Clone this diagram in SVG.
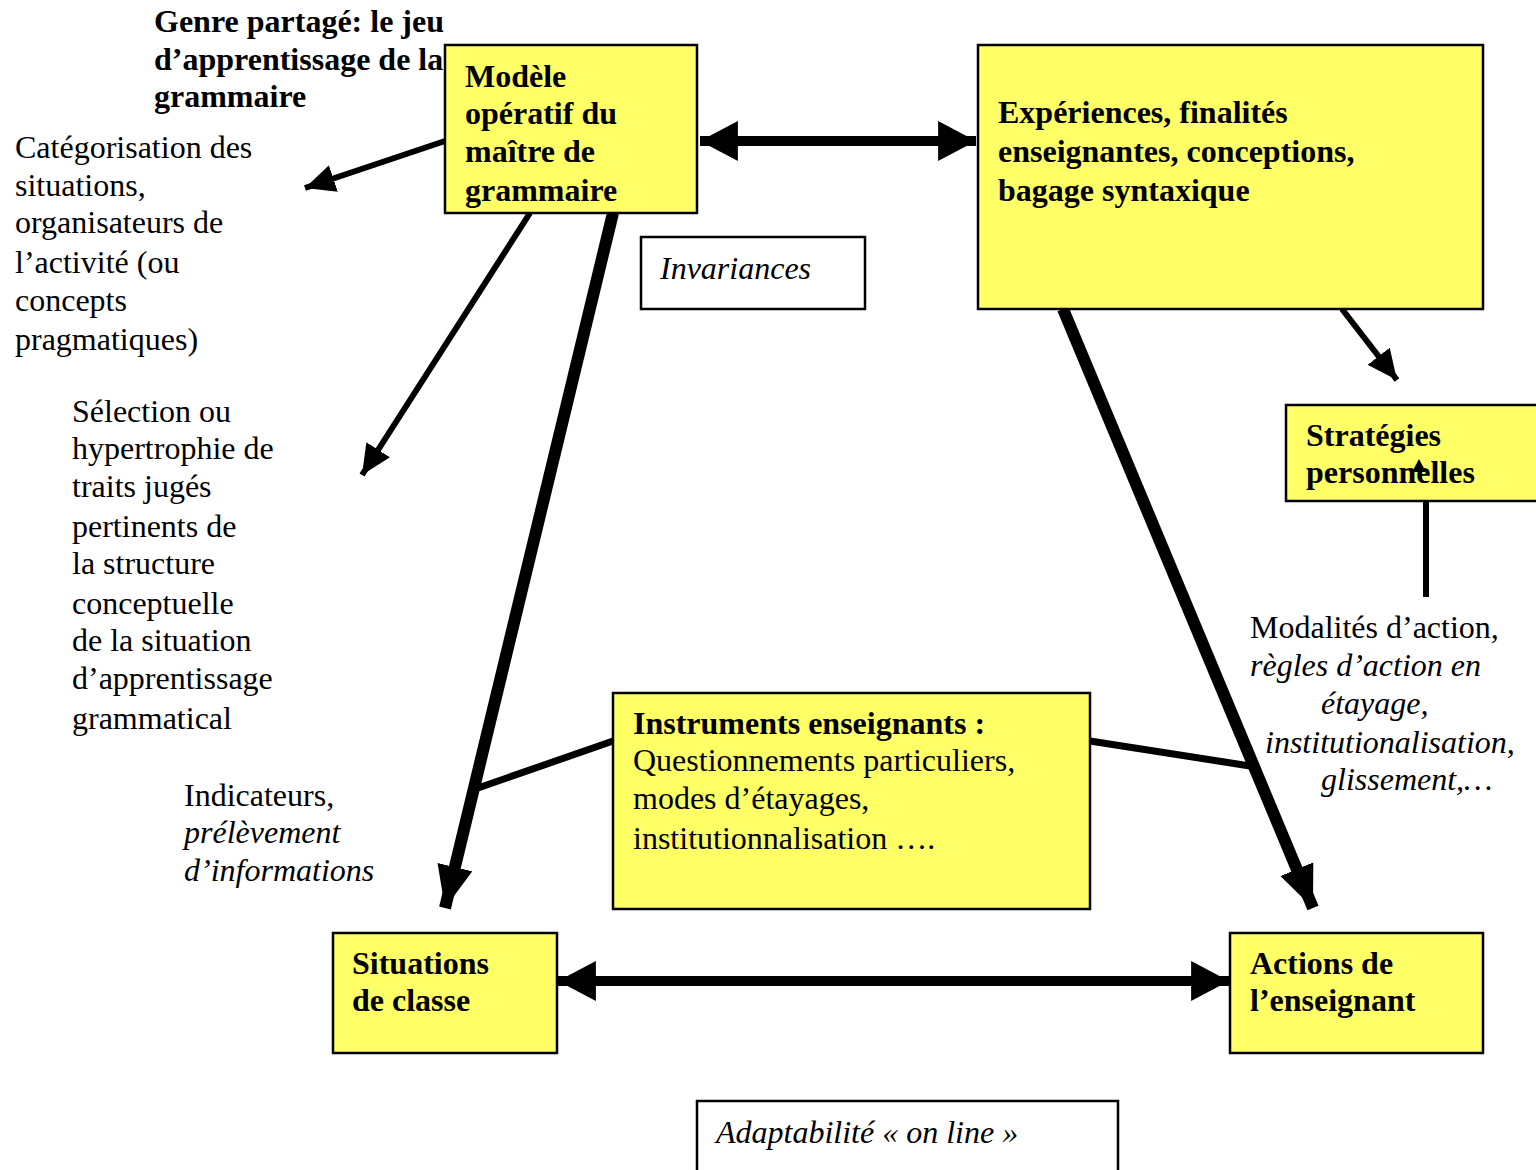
<svg xmlns="http://www.w3.org/2000/svg" width="1536" height="1170" viewBox="0 0 1536 1170">
<style>
.box{fill:#FFFF66;stroke:#000;stroke-width:2.5}
.wbox{fill:#fff;stroke:#000;stroke-width:2.5}
text{font-family:"Liberation Serif","Times New Roman",serif;font-size:32px;fill:#000}
.b{font-weight:bold}
.i{font-style:italic}
.c{stroke:#000;fill:none}
</style>
<defs>
<marker id="hL" markerUnits="userSpaceOnUse" markerWidth="40" markerHeight="40" viewBox="0 0 36 38" refX="36" refY="19" orient="auto-start-reverse"><path d="M0,0 L36,19 L0,38 z"/></marker>
<marker id="hT" markerUnits="userSpaceOnUse" markerWidth="42" markerHeight="36" viewBox="0 0 40 34" refX="40" refY="17" orient="auto"><path d="M0,0 L40,17 L0,34 z"/></marker>
<marker id="hS" markerUnits="userSpaceOnUse" markerWidth="30" markerHeight="28" viewBox="0 0 30 28" refX="30" refY="14" orient="auto"><path d="M0,0 L30,14 L0,28 z"/></marker>
</defs>

<g id="connectors">
<line class="c" x1="700" y1="141" x2="976" y2="141" stroke-width="10" marker-start="url(#hL)" marker-end="url(#hL)"/>
<line class="c" x1="558" y1="981" x2="1229" y2="981" stroke-width="10" marker-start="url(#hL)" marker-end="url(#hL)"/>
<line class="c" x1="445" y1="141" x2="305" y2="188" stroke-width="6" marker-end="url(#hS)"/>
<line class="c" x1="530" y1="213" x2="362" y2="475" stroke-width="6" marker-end="url(#hS)"/>
<line class="c" x1="613" y1="213" x2="445" y2="908" stroke-width="12" marker-end="url(#hT)"/>
<line class="c" x1="1063" y1="309" x2="1313" y2="908" stroke-width="12" marker-end="url(#hT)"/>
<line class="c" x1="1342" y1="309" x2="1397" y2="380" stroke-width="6" marker-end="url(#hS)"/>
<line class="c" x1="1426" y1="500" x2="1426" y2="597" stroke-width="6"/>
<line class="c" x1="613" y1="741" x2="478" y2="788" stroke-width="7"/>
<line class="c" x1="1090" y1="741" x2="1250" y2="766" stroke-width="7"/>
</g>

<g id="genre">
<text class="b" x="154" y="32">Genre partagé: le jeu</text>
<text class="b" x="154" y="70">d’apprentissage de la</text>
<text class="b" x="154" y="107">grammaire</text>
</g>

<g id="categorisation">
<text x="15" y="158">Catégorisation des</text>
<text x="15" y="196">situations,</text>
<text x="15" y="233">organisateurs de</text>
<text x="15" y="273">l’activité (ou</text>
<text x="15" y="311">concepts</text>
<text x="15" y="350">pragmatiques)</text>
</g>

<g id="modele">
<rect class="box" x="445" y="45" width="252" height="168"/>
<text class="b" x="465" y="87">Modèle</text>
<text class="b" x="465" y="124">opératif du</text>
<text class="b" x="465" y="162">maître de</text>
<text class="b" x="465" y="201">grammaire</text>
</g>

<g id="experiences">
<rect class="box" x="978" y="45" width="505" height="264"/>
<text class="b" x="998" y="123">Expériences, finalités</text>
<text class="b" x="998" y="162">enseignantes, conceptions,</text>
<text class="b" x="998" y="201">bagage syntaxique</text>
</g>

<g id="invariances">
<rect class="wbox" x="641" y="237" width="224" height="72"/>
<text class="i" x="660" y="279">Invariances</text>
</g>

<g id="selection">
<text x="72" y="422">Sélection ou</text>
<text x="72" y="459">hypertrophie de</text>
<text x="72" y="497">traits jugés</text>
<text x="72" y="537">pertinents de</text>
<text x="72" y="574">la structure</text>
<text x="72" y="614">conceptuelle</text>
<text x="72" y="651">de la situation</text>
<text x="72" y="689">d’apprentissage</text>
<text x="72" y="729">grammatical</text>
</g>

<g id="strategies">
<rect class="box" x="1286" y="405" width="260" height="96"/>
<text class="b" x="1306" y="446">Stratégies</text>
<text class="b" x="1306" y="483">personnelles</text>
<path d="M1412,472 L1419,459 L1426,472 z"/>
</g>

<g id="modalites">
<text x="1250" y="638">Modalités d’action,</text>
<text class="i" x="1250" y="676">règles d’action en</text>
<text class="i" x="1321" y="714">étayage,</text>
<text class="i" x="1265" y="753">institutionalisation,</text>
<text class="i" x="1321" y="790">glissement,…</text>
</g>

<g id="instruments">
<rect class="box" x="613" y="693" width="477" height="216"/>
<text class="b" x="633" y="734">Instruments enseignants :</text>
<text x="633" y="771">Questionnements particuliers,</text>
<text x="633" y="809">modes d’étayages,</text>
<text x="633" y="849">institutionnalisation ….</text>
</g>

<g id="indicateurs">
<text x="184" y="806">Indicateurs,</text>
<text class="i" x="184" y="843">prélèvement</text>
<text class="i" x="184" y="881">d’informations</text>
</g>

<g id="situations">
<rect class="box" x="333" y="933" width="224" height="120"/>
<text class="b" x="352" y="974">Situations</text>
<text class="b" x="352" y="1011">de classe</text>
</g>

<g id="actions">
<rect class="box" x="1230" y="933" width="253" height="120"/>
<text class="b" x="1250" y="974">Actions de</text>
<text class="b" x="1250" y="1011">l’enseignant</text>
</g>

<g id="adaptabilite">
<rect class="wbox" x="697" y="1101" width="421" height="80"/>
<text class="i" x="716" y="1143">Adaptabilité « on line »</text>
</g>
</svg>
